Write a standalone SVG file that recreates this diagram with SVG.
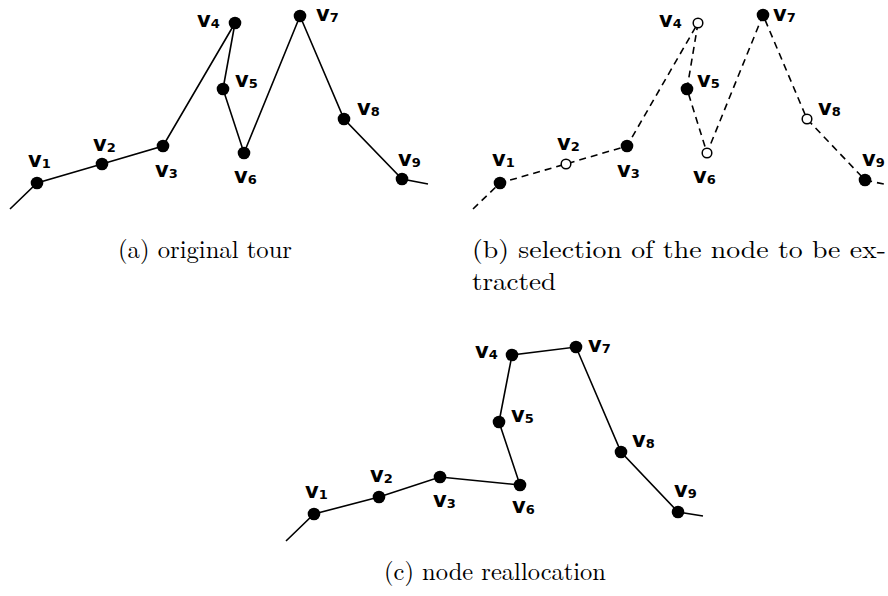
<svg xmlns="http://www.w3.org/2000/svg" width="888" height="596" viewBox="0 0 888 596">
<style>
.e{fill:none;stroke:#000;stroke-width:1.6}
.d{fill:none;stroke:#000;stroke-width:1.6;stroke-dasharray:7 5}
.n{fill:#000}
.o{fill:#fff;stroke:#000;stroke-width:1.5}
.l{font-family:"DejaVu Sans",Verdana,sans-serif;font-weight:bold;font-size:21px;fill:#000}
.s{font-size:13px}
.c{font-family:"Latin Modern Roman","CMU Serif","Liberation Serif",serif;font-size:25px;fill:#000}
</style>
<rect width="888" height="596" fill="#fff"/>
<g id="connectors">
<polyline class="e" points="10,209 37,183 102,164 163,146 235,23 223,89 244,153 300,16 344,119 402,179 428,184"/>
<polyline class="d" points="473,209 500,183 566,164 627,146 698,23 687,89 707,153 763,15 807,119 865,180 888,185"/>
<polyline class="e" points="286,541 314,514 379,497 440,477 520,485 499,422 512,355 576,347 621,452 678,512 703,516"/>
</g>
<g id="a-v1"><circle class="n" cx="37" cy="183" r="6.3"/><text class="l" x="28" y="167">v<tspan class="s" dy="1">1</tspan></text></g>
<g id="a-v2"><circle class="n" cx="102" cy="164" r="6.3"/><text class="l" x="93" y="151">v<tspan class="s" dy="1">2</tspan></text></g>
<g id="a-v3"><circle class="n" cx="163" cy="146" r="6.3"/><text class="l" x="155" y="177">v<tspan class="s" dy="1">3</tspan></text></g>
<g id="a-v4"><circle class="n" cx="235" cy="23" r="6.3"/><text class="l" x="197" y="27">v<tspan class="s" dy="1">4</tspan></text></g>
<g id="a-v5"><circle class="n" cx="223" cy="89" r="6.3"/><text class="l" x="235" y="87">v<tspan class="s" dy="1">5</tspan></text></g>
<g id="a-v6"><circle class="n" cx="244" cy="153" r="6.3"/><text class="l" x="234" y="183">v<tspan class="s" dy="1">6</tspan></text></g>
<g id="a-v7"><circle class="n" cx="300" cy="16" r="6.3"/><text class="l" x="316" y="21">v<tspan class="s" dy="1">7</tspan></text></g>
<g id="a-v8"><circle class="n" cx="344" cy="119" r="6.3"/><text class="l" x="357" y="115">v<tspan class="s" dy="1">8</tspan></text></g>
<g id="a-v9"><circle class="n" cx="402" cy="179" r="6.3"/><text class="l" x="398" y="166">v<tspan class="s" dy="1">9</tspan></text></g>

<g id="b-v1"><circle class="n" cx="500" cy="183" r="6.3"/><text class="l" x="492" y="166">v<tspan class="s" dy="1">1</tspan></text></g>
<g id="b-v2"><circle class="o" cx="566" cy="164" r="4.8"/><text class="l" x="557" y="150">v<tspan class="s" dy="1">2</tspan></text></g>
<g id="b-v3"><circle class="n" cx="627" cy="146" r="6.3"/><text class="l" x="617" y="177">v<tspan class="s" dy="1">3</tspan></text></g>
<g id="b-v4"><circle class="o" cx="698" cy="23" r="4.8"/><text class="l" x="659" y="27">v<tspan class="s" dy="1">4</tspan></text></g>
<g id="b-v5"><circle class="n" cx="687" cy="89" r="6.3"/><text class="l" x="697" y="87">v<tspan class="s" dy="1">5</tspan></text></g>
<g id="b-v6"><circle class="o" cx="707" cy="153" r="4.8"/><text class="l" x="693" y="183">v<tspan class="s" dy="1">6</tspan></text></g>
<g id="b-v7"><circle class="n" cx="763" cy="15" r="6.3"/><text class="l" x="773" y="21">v<tspan class="s" dy="1">7</tspan></text></g>
<g id="b-v8"><circle class="o" cx="807" cy="119" r="4.8"/><text class="l" x="818" y="115">v<tspan class="s" dy="1">8</tspan></text></g>
<g id="b-v9"><circle class="n" cx="865" cy="180" r="6.3"/><text class="l" x="862" y="166">v<tspan class="s" dy="1">9</tspan></text></g>

<g id="c-v1"><circle class="n" cx="314" cy="514" r="6.3"/><text class="l" x="305" y="498">v<tspan class="s" dy="1">1</tspan></text></g>
<g id="c-v2"><circle class="n" cx="379" cy="497" r="6.3"/><text class="l" x="370" y="482">v<tspan class="s" dy="1">2</tspan></text></g>
<g id="c-v3"><circle class="n" cx="440" cy="477" r="6.3"/><text class="l" x="433" y="507">v<tspan class="s" dy="1">3</tspan></text></g>
<g id="c-v4"><circle class="n" cx="512" cy="355" r="6.3"/><text class="l" x="475" y="358">v<tspan class="s" dy="1">4</tspan></text></g>
<g id="c-v5"><circle class="n" cx="499" cy="422" r="6.3"/><text class="l" x="511" y="422">v<tspan class="s" dy="1">5</tspan></text></g>
<g id="c-v6"><circle class="n" cx="520" cy="485" r="6.3"/><text class="l" x="512" y="513">v<tspan class="s" dy="1">6</tspan></text></g>
<g id="c-v7"><circle class="n" cx="576" cy="347" r="6.3"/><text class="l" x="588" y="352">v<tspan class="s" dy="1">7</tspan></text></g>
<g id="c-v8"><circle class="n" cx="621" cy="452" r="6.3"/><text class="l" x="632" y="447">v<tspan class="s" dy="1">8</tspan></text></g>
<g id="c-v9"><circle class="n" cx="678" cy="512" r="6.3"/><text class="l" x="674" y="497">v<tspan class="s" dy="1">9</tspan></text></g>

<text class="c" x="118" y="258" textLength="174" lengthAdjust="spacingAndGlyphs">(a) original tour</text>
<text class="c" x="472" y="258" textLength="414" lengthAdjust="spacingAndGlyphs">(b) selection of the node to be ex-</text>
<text class="c" x="472" y="290" textLength="84" lengthAdjust="spacingAndGlyphs">tracted</text>
<text class="c" x="384" y="580" textLength="222" lengthAdjust="spacingAndGlyphs">(c) node reallocation</text>
</svg>
